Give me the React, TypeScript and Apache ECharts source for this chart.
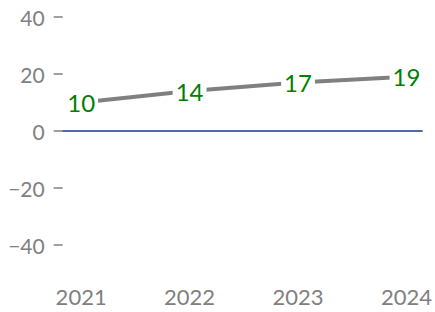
import React, { useEffect, useRef } from "react";
import * as echarts from "echarts";

const years = [2021, 2022, 2023, 2024];
const values = [10, 14, 17, 19];
const yTicks = [-40, -20, 0, 20, 40];

export default function App() {
  const ref = useRef<HTMLDivElement>(null);
  useEffect(() => {
    const chart = echarts.init(ref.current!, null, { renderer: "svg" });
    const font = "Lato, 'DejaVu Sans', sans-serif";
    chart.setOption({
      animation: false,
      grid: { left: 62.7, right: 9, top: 17, bottom: 38.5 },
      xAxis: {
        type: "value",
        min: 2020.83,
        max: 2024.145,
        splitLine: { show: false },
        axisLine: { show: true, onZero: true, lineStyle: { color: "#1a3a8f", width: 1.5 } },
        axisTick: { show: false },
        axisLabel: {
          show: true,
          customValues: years,
          formatter: (v: number) => String(v),
          color: "#808080",
          fontSize: 22,
          fontFamily: font,
          margin: 12,
        },
        position: "bottom",
      },
      yAxis: {
        type: "value",
        min: -50,
        max: 40,
        splitLine: { show: false },
        axisLine: { show: false },
        axisTick: { show: true, customValues: yTicks, length: 9, lineStyle: { color: "#808080", width: 1.5 } },
        axisLabel: {
          customValues: yTicks,
          formatter: (v: number) => (v < 0 ? "\u2212" + Math.abs(v) : String(v)),
          color: "#808080",
          fontSize: 21,
          fontFamily: font,
          margin: 18,
        },
      },
      series: [
        {
          type: "line",
          data: years.map((y, i) => [y, values[i]]),
          symbol: "circle",
          symbolSize: 0,
          showSymbol: true,
          itemStyle: { color: "#808080" },
          lineStyle: { color: "#808080", width: 4 },
          label: {
            show: true,
            position: "inside",
            formatter: (p: any) => String(p.value[1]),
            color: "#008000",
            fontSize: 24,
            fontFamily: font,
            backgroundColor: "#ffffff",
            padding: [0, 3],
          },
        },
      ],
    });
    return () => chart.dispose();
  }, []);
  return <div ref={ref} style={{ width: 435, height: 312, position: "absolute", left: 0, top: 0 }} />;
}
